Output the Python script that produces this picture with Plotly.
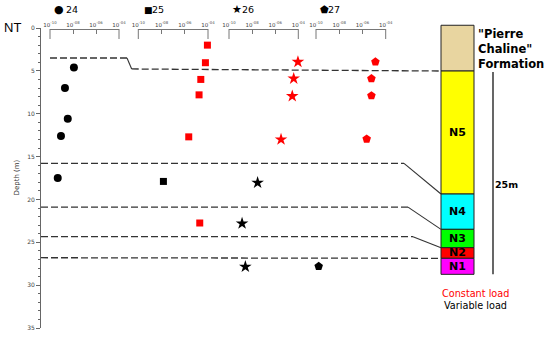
import plotly.graph_objects as go

# ---------------- data ----------------
# hydraulic conductivity (m/s) vs depth (m) for four boreholes
k24_var = [1.2e-8, 2.0e-9, 3.5e-9, 9.0e-10, 4.7e-10]
d24_var = [4.6, 7.0, 10.6, 12.6, 17.5]
k24_const = []
d24_const = []

k25_const = [8.9e-5, 6.0e-5, 2.4e-5, 1.7e-5, 2.2e-6, 1.95e-5]
d25_const = [2.0, 4.05, 6.0, 7.8, 12.7, 22.75]
k25_var = [1.45e-8]
d25_var = [17.9]

k26_const = [1.0e-4, 9.3e-5, 4.0e-5, 3.0e-5, 3.2e-6]
d26_const = [1.95, 3.95, 5.9, 7.95, 13.0]
k26_var = [3.0e-8, 1.35e-9, 2.6e-9]
d26_var = [18.05, 22.8, 27.85]

k27_const = [1.0e-4, 1.3e-5, 5.9e-6, 5.9e-6, 2.3e-6]
d27_const = [1.95, 3.95, 5.9, 7.9, 12.95]
k27_var = [1.7e-10]
d27_var = [27.8]

series_names = ["24", "25", "26", "27"]
x_tickvals = [1e-10, 1e-8, 1e-6, 1e-4]
x_ticktext = ["10<sup>-10</sup>", "10<sup>-08</sup>", "10<sup>-06</sup>", "10<sup>-04</sup>"]
y_tickvals = [0, 5, 10, 15, 20, 25, 30, 35]

# stratigraphic column (depth, m)
layer_names = ["", "N5", "N4", "N3", "N2", "N1"]
layer_top = [-0.32, 5.02, 19.37, 23.49, 25.63, 26.87]
layer_bottom = [5.02, 19.37, 23.49, 25.63, 26.87, 28.74]
layer_colors = ["#E8D5A0", "#FFFF00", "#00FFFF", "#00FF00", "#FF0000", "#FF00FF"]

# correlated unit boundaries: depth at boreholes, depth at step, depth at column
bnd_left_depth = [3.5, 15.8, 20.9, 24.35, 26.8]
bnd_column_depth = [5.02, 19.37, 23.49, 25.63, 26.87]
bnd1_step_depth = 4.78

scale_bar_top = 5.13
scale_bar_bottom = 28.74

# ---------------- geometry helpers ----------------
W, H = 550, 338
def px(x):
    return x / W
def py(y):
    return 1 - y / H

RED = "#FF0000"
BLK = "#000000"
AXC = "#777777"
FONT = "DejaVu Sans"

fig = go.Figure()

cols = [
    ("x", "circle", 8, k24_const, d24_const, k24_var, d24_var),
    ("x2", "square", 7, k25_const, d25_const, k25_var, d25_var),
    ("x3", "star", 9.5, k26_const, d26_const, k26_var, d26_var),
    ("x4", "pentagon", 9, k27_const, d27_const, k27_var, d27_var),
]
for ax, sym, sz, kc, dc, kv, dv in cols:
    fig.add_trace(go.Scatter(x=kc, y=dc, mode="markers", xaxis=ax, yaxis="y",
                             marker=dict(symbol=sym, size=sz, color=RED),
                             cliponaxis=False, showlegend=False, hoverinfo="skip"))
    fig.add_trace(go.Scatter(x=kv, y=dv, mode="markers", xaxis=ax, yaxis="y",
                             marker=dict(symbol=sym, size=sz, color=BLK),
                             cliponaxis=False, showlegend=False, hoverinfo="skip"))

# ---- schematic layer (column, boundaries) on hidden axes x5/y2 ----
col_x = 457.5
col_w = 33
col_left = col_x - col_w / 2
left_start = 41
line1_start = 50
step_x = [127, 131.7]
bend_x = [None, 404, 408, 413, None]

LINEC = "#333333"
dash = "7px,3px"

dxs, dys, sxs, sys_ = [], [], [], []
# boundary 1 (with a step)
dxs += [line1_start, step_x[0], None, step_x[1], col_left, None]
dys += [bnd_left_depth[0], bnd_left_depth[0], None, bnd1_step_depth, bnd_column_depth[0], None]
sxs += [step_x[0], step_x[1], None]
sys_ += [bnd_left_depth[0], bnd1_step_depth, None]
for i in range(1, 4):
    dxs += [left_start, bend_x[i], None]
    dys += [bnd_left_depth[i], bnd_left_depth[i], None]
    sxs += [bend_x[i], col_left, None]
    sys_ += [bnd_left_depth[i], bnd_column_depth[i], None]
dxs += [left_start, col_left]
dys += [bnd_left_depth[4], bnd_column_depth[4]]

fig.add_trace(go.Scatter(x=dxs, y=dys, mode="lines", xaxis="x5", yaxis="y2",
                         line=dict(color=LINEC, width=1.3, dash=dash),
                         showlegend=False, hoverinfo="skip", cliponaxis=False))
fig.add_trace(go.Scatter(x=sxs, y=sys_, mode="lines", xaxis="x5", yaxis="y2",
                         line=dict(color=LINEC, width=1.1),
                         showlegend=False, hoverinfo="skip", cliponaxis=False))

fig.add_trace(go.Bar(x=[col_x] * len(layer_top), base=layer_top,
                     y=[b - t for t, b in zip(layer_top, layer_bottom)],
                     width=col_w, xaxis="x5", yaxis="y2",
                     marker=dict(color=layer_colors, line=dict(color="#222222", width=1)),
                     showlegend=False, hoverinfo="skip"))

fig.add_trace(go.Scatter(x=[493, 493], y=[scale_bar_top, scale_bar_bottom], mode="lines",
                         xaxis="x5", yaxis="y2", line=dict(color=BLK, width=1.2),
                         showlegend=False, hoverinfo="skip", cliponaxis=False))

# ---------------- layout ----------------
domains = [(50, 119), (138.3, 208), (229, 298.3), (316, 385.7)]
layout = dict(
    width=W, height=H,
    margin=dict(l=0, r=0, t=0, b=0, pad=0, autoexpand=False),
    paper_bgcolor="white", plot_bgcolor="rgba(0,0,0,0)",
    font=dict(family=FONT, color="#000"),
    barmode="overlay",
    showlegend=False,
)
axnames = ["xaxis", "xaxis2", "xaxis3", "xaxis4"]
for name, (a, b) in zip(axnames, domains):
    layout[name] = dict(
        type="log", range=[-10, -4], domain=[px(a), px(b)],
        anchor="free", position=py(29), side="top", automargin=False,
        showline=True, linecolor=AXC, linewidth=1,
        ticks="inside", ticklen=4, tickcolor=AXC, tickwidth=1,
        tickvals=x_tickvals, ticktext=x_ticktext,
        tickfont=dict(size=5.5, color="#444"),
        showgrid=False, zeroline=False,
    )
layout["yaxis"] = dict(
    domain=[py(328), py(28)], range=[35, 0], anchor="free", position=px(40),
    automargin=False,
    showline=True, linecolor="#666", linewidth=1,
    ticks="outside", ticklen=4, tickcolor="#666",
    tickvals=y_tickvals, tickfont=dict(size=6, color="#444"),
    minor=dict(ticks="outside", ticklen=2, dtick=1, tick0=0, tickcolor="#666"),
    showgrid=False, zeroline=False,
)
layout["xaxis5"] = dict(domain=[0, 1], range=[0, W], visible=False, anchor="free",
                        position=0, automargin=False)
layout["yaxis2"] = dict(domain=[py(328), py(28 - 300 / 35)], range=[35, -1], visible=False,
                        anchor="free", position=0, automargin=False)
fig.update_layout(**layout)

# end ticks of the top axes
for ax in ["x", "x2", "x3", "x4"]:
    for xd in (0, 1):
        fig.add_shape(type="line", xref=f"{ax} domain", yref="paper",
                      x0=xd, x1=xd, y0=py(29), y1=py(39),
                      line=dict(color=AXC, width=1))


def note(text, x, y, size, color="#000", xanchor="center", **kw):
    return dict(text=text, x=px(x), y=py(y), xref="paper", yref="paper", showarrow=False,
                xanchor=xanchor, yanchor="middle", font=dict(size=size, color=color,
                                                              family=kw.pop("family", FONT)),
                borderpad=0, **kw)


ann = []
ann.append(note("NT", 12, 27.5, 13, family="Liberation Sans Narrow, Liberation Sans"))
ann.append(note("Depth (m)", 16, 177.5, 7, color="#333", textangle=-90))

glyphs = [("●", 59, 9.3, 11), ("■", 148.5, 9.6, 9), ("★", 236.7, 9, 11), ("⬟", 324.7, 9.3, 10)]
label_x = [65.7, 152, 242.3, 328.3]
for (g, gx, gy, gs), lx, nm in zip(glyphs, label_x, series_names):
    ann.append(note(g, gx, gy, gs))
    ann.append(note(nm, lx - 1, 9.5, 9.5, xanchor="left"))

ann.append(note("<b>\"Pierre<br>Chaline\"<br>Formation</b>", 477, 49, 11.5,
                xanchor="left", align="left"))
for nm, t, b in zip(layer_names, layer_top, layer_bottom):
    if nm:
        ann.append(dict(text=f"<b>{nm}</b>", x=col_x, y=(t + b) / 2, xref="x5", yref="y2",
                        xanchor="center", yanchor="middle", borderpad=0,
                        showarrow=False, font=dict(size=11, color="#000")))
ann.append(note("<b>25m</b>", 494, 184.3, 9.5, xanchor="left"))
ann.append(note("Constant load", 475, 293.3, 9.7, color=RED))
ann.append(note("Variable load", 475, 305.7, 9.7))
fig.update_layout(annotations=ann)

fig.write_html("out.html", config={"displayModeBar": False, "staticPlot": True},
               post_script="document.body.style.margin='0px';")
